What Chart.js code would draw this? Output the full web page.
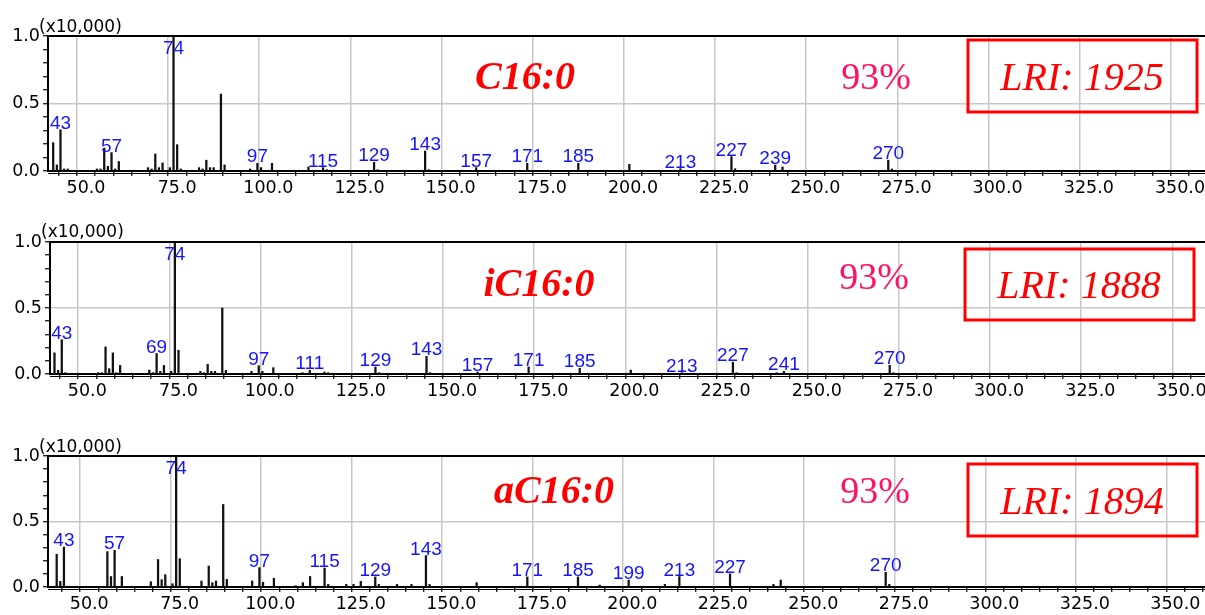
<!DOCTYPE html>
<html>
<head>
<meta charset="utf-8">
<script src="https://cdn.jsdelivr.net/npm/chart.js@4.4.1/dist/chart.umd.min.js"></script>
<style>
  html, body { margin: 0; padding: 0; background: #fff; overflow: hidden; }
  #wrap { position: relative; width: 1205px; height: 615px; }
  canvas { position: absolute; left: 0; }
</style>
</head>
<body>
<div id="wrap">
  <canvas id="c1" width="1205" height="205" style="top:0px"></canvas>
  <canvas id="c2" width="1205" height="205" style="top:206px"></canvas>
  <canvas id="c3" width="1205" height="195" style="top:420px"></canvas>
</div>
<script>
// ---- Mass spectra (relative intensity, x10,000 counts) ----
// C16:0
const c16Mz = [41,42,43,44,45,53,54,55,56,57,58,59,67,68,69,70,71,73,74,75,76,81,82,83,84,85,87,88,95,97,98,101,111,115,116,129,130,143,144,157,171,185,199,213,227,228,239,241,270,271];
const c16Int = [0.21,0.045,0.305,0.015,0.015,0.015,0.015,0.17,0.035,0.136,0.015,0.07,0.025,0.015,0.126,0.025,0.06,0.025,1.0,0.195,0.015,0.025,0.015,0.08,0.025,0.025,0.57,0.045,0.015,0.057,0.025,0.057,0.03,0.025,0.01,0.064,0.01,0.148,0.01,0.025,0.057,0.057,0.05,0.017,0.106,0.017,0.044,0.03,0.08,0.015];
const c16Labeled = [43,57,74,97,115,129,143,157,171,185,213,227,239,270];

// iC16:0
const iC16Mz = [41,42,43,44,53,54,55,56,57,58,59,67,68,69,70,71,73,74,75,81,82,83,84,85,87,88,95,97,98,101,109,111,115,116,129,130,143,144,157,171,185,199,213,227,228,239,241,270,271];
const iC16Int = [0.16,0.028,0.26,0.01,0.01,0.01,0.205,0.04,0.16,0.01,0.065,0.03,0.01,0.155,0.02,0.065,0.02,1.0,0.18,0.02,0.01,0.073,0.02,0.02,0.5,0.028,0.02,0.063,0.02,0.048,0.01,0.028,0.015,0.01,0.053,0.01,0.134,0.01,0.015,0.053,0.043,0.03,0.01,0.09,0.01,0.01,0.02,0.066,0.01];
const iC16Labeled = [43,69,74,97,111,129,143,157,171,185,213,227,241,270];

// aC16:0
const aC16Mz = [41,42,43,55,56,57,59,67,69,70,71,73,74,75,81,83,84,85,87,88,95,97,98,101,107,109,111,115,116,121,123,125,129,130,135,139,143,144,157,171,185,191,199,209,213,227,239,241,270,271];
const aC16Int = [0.25,0.043,0.305,0.27,0.08,0.28,0.08,0.04,0.21,0.056,0.094,0.025,1.0,0.216,0.046,0.16,0.033,0.046,0.63,0.058,0.046,0.148,0.036,0.066,0.01,0.033,0.08,0.145,0.02,0.02,0.02,0.043,0.077,0.02,0.02,0.02,0.24,0.02,0.033,0.077,0.077,0.015,0.053,0.02,0.08,0.1,0.02,0.053,0.112,0.02];
const aC16Labeled = [43,57,74,97,115,129,143,171,185,199,213,227,270];

// Compound names, match score and retention index
const compoundNames = ['C16:0', 'iC16:0', 'aC16:0'];
const matchScores = ['93%', '93%', '93%'];
const lriValues = ['LRI: 1925', 'LRI: 1888', 'LRI: 1894'];

const yScaleNote = '(x10,000)';

// ---- drawing helpers ----
const SANS = '"Liberation Sans", Arial, sans-serif';
const AXIS = '"DejaVu Sans", Verdana, sans-serif';
const SERIF = '"Liberation Serif", "Times New Roman", serif';
const CLEAR = 'rgba(0,0,0,0)';
const isMult = (v, step) => Math.abs(v / step - Math.round(v / step)) < 1e-6;
const tickVal = c => (c && c.tick && typeof c.tick.value === 'number') ? c.tick.value : null;

const framePlugin = {
  id: 'frame',
  afterDraw(chart, args, opts) {
    const { ctx, chartArea: a } = chart;
    ctx.save();
    ctx.strokeStyle = '#000';
    ctx.lineWidth = 2;
    ctx.beginPath();
    ctx.moveTo(a.left - 1, a.top);
    ctx.lineTo(a.right, a.top);
    ctx.stroke();
    // second rule under the x axis
    ctx.lineWidth = 1.2;
    ctx.beginPath();
    ctx.moveTo(a.left, a.bottom + 2.5);
    ctx.lineTo(a.right, a.bottom + 2.5);
    ctx.stroke();
    // "(x10,000)" over the intensity axis
    ctx.fillStyle = '#000';
    ctx.font = '17px ' + AXIS;
    ctx.textAlign = 'left';
    ctx.textBaseline = 'alphabetic';
    ctx.fillText(yScaleNote, opts.noteX, a.top + opts.noteDy);
    ctx.restore();
  }
};

const peakLabelPlugin = {
  id: 'peakLabels',
  afterDatasetsDraw(chart, args, opts) {
    const { ctx, chartArea: a } = chart;
    const meta = chart.getDatasetMeta(0);
    const mz = opts.mz;
    ctx.save();
    ctx.fillStyle = '#1414ff';
    ctx.font = '19px ' + SANS;
    ctx.textAlign = 'center';
    ctx.textBaseline = 'alphabetic';
    opts.labeled.forEach(m => {
      const i = mz.indexOf(m);
      if (i < 0) return;
      const el = meta.data[i];
      const y = Math.max(el.y - 1, a.top + 18);
      ctx.fillText(String(m), el.x, y);
    });
    ctx.restore();
  }
};

const notePlugin = {
  id: 'compoundNote',
  afterDraw(chart, args, o) {
    const { ctx, chartArea: a } = chart;
    ctx.save();
    ctx.textBaseline = 'alphabetic';
    ctx.textAlign = 'center';
    // compound name
    ctx.fillStyle = '#ff0000';
    ctx.font = 'italic bold 40px ' + SERIF;
    ctx.fillText(o.name, o.nameX, a.top + o.nameDy);
    // match score
    ctx.fillStyle = '#ff1166';
    ctx.font = '38px ' + SERIF;
    ctx.fillText(o.score, o.scoreX, a.top + o.scoreDy);
    // retention index box
    ctx.strokeStyle = '#ff0000';
    ctx.lineWidth = 3;
    ctx.strokeRect(o.box[0], a.top + o.box[1], o.box[2] - o.box[0], o.box[3] - o.box[1]);
    ctx.fillStyle = '#ff0000';
    ctx.font = 'italic 40px ' + SERIF;
    ctx.fillText(o.lri, o.lriX, a.top + o.lriDy);
    ctx.restore();
  }
};

function makeSpectrum(canvasId, mz, intensity, labeled, view, note) {
  return new Chart(document.getElementById(canvasId), {
    type: 'bar',
    data: {
      datasets: [{
        data: mz.map((m, i) => ({ x: m, y: intensity[i] })),
        backgroundColor: '#111111',
        borderWidth: 0,
        barThickness: 1.6,
        grouped: false
      }]
    },
    options: {
      responsive: false,
      animation: false,
      devicePixelRatio: 1,
      layout: { padding: { top: 36, left: 0, right: 0, bottom: 0 } },
      plugins: {
        legend: { display: false },
        tooltip: { enabled: false },
        frame: { noteX: view.noteX, noteDy: view.noteDy },
        peakLabels: { mz: mz, labeled: labeled },
        compoundNote: note
      },
      scales: {
        x: {
          type: 'linear',
          offset: false,
          min: view.xMin,
          max: view.xMax,
          afterFit(s) { s.height = view.xAxisH; },
          border: { display: true, color: '#000', width: 2 },
          grid: {
            drawOnChartArea: true,
            color: c => { const v = tickVal(c); return (v !== null && isMult(v, 25)) ? '#c8c8c8' : CLEAR; },
            lineWidth: 1.5,
            tickColor: '#000',
            tickLength: 5,
            tickWidth: 1.2
          },
          ticks: {
            stepSize: 5,
            includeBounds: false,
            autoSkip: false,
            maxRotation: 0,
            padding: 2,
            color: '#000',
            font: { family: AXIS, size: 17.5 },
            callback: v => isMult(v, 25) ? Number(v).toFixed(1) : ''
          }
        },
        y: {
          type: 'linear',
          min: 0,
          max: 1,
          afterFit(s) { s.width = view.yAxisW; },
          border: { display: true, color: '#000', width: 2 },
          grid: {
            color: c => { const v = tickVal(c); return (v !== null && v > 0.01 && isMult(v, 0.5)) ? '#c8c8c8' : CLEAR; },
            lineWidth: 1.5,
            tickColor: '#000',
            tickLength: 5,
            tickWidth: 1.2
          },
          ticks: {
            stepSize: 0.1,
            autoSkip: false,
            padding: 3,
            color: '#000',
            font: { family: AXIS, size: 17.5 },
            callback: v => isMult(v, 0.5) ? Number(v).toFixed(1) : ''
          }
        }
      }
    },
    plugins: [framePlugin, peakLabelPlugin, notePlugin]
  });
}

makeSpectrum('c1', c16Mz, c16Int, c16Labeled,
  { xMin: 39.58, xMax: 356.86, yAxisW: 48, xAxisH: 34, noteX: 39, noteDy: -4 },
  { name: compoundNames[0], nameX: 525, nameDy: 53,
    score: matchScores[0], scoreX: 876, scoreDy: 53,
    box: [968, 4, 1197, 76], lri: lriValues[0], lriX: 1082, lriDy: 54 });

makeSpectrum('c2', iC16Mz, iC16Int, iC16Labeled,
  { xMin: 39.77, xMax: 356.44, yAxisW: 50, xAxisH: 37, noteX: 41, noteDy: -5 },
  { name: compoundNames[1], nameX: 539, nameDy: 54,
    score: matchScores[1], scoreX: 874, scoreDy: 47,
    box: [965, 7, 1194, 78], lri: lriValues[1], lriX: 1079, lriDy: 56 });

makeSpectrum('c3', aC16Mz, aC16Int, aC16Labeled,
  { xMin: 38.6, xMax: 358.2, yAxisW: 48, xAxisH: 28, noteX: 39, noteDy: -4 },
  { name: compoundNames[2], nameX: 554, nameDy: 47,
    score: matchScores[2], scoreX: 875, scoreDy: 47,
    box: [968, 8, 1197, 80], lri: lriValues[2], lriX: 1082, lriDy: 58 });
</script>
</body>
</html>
